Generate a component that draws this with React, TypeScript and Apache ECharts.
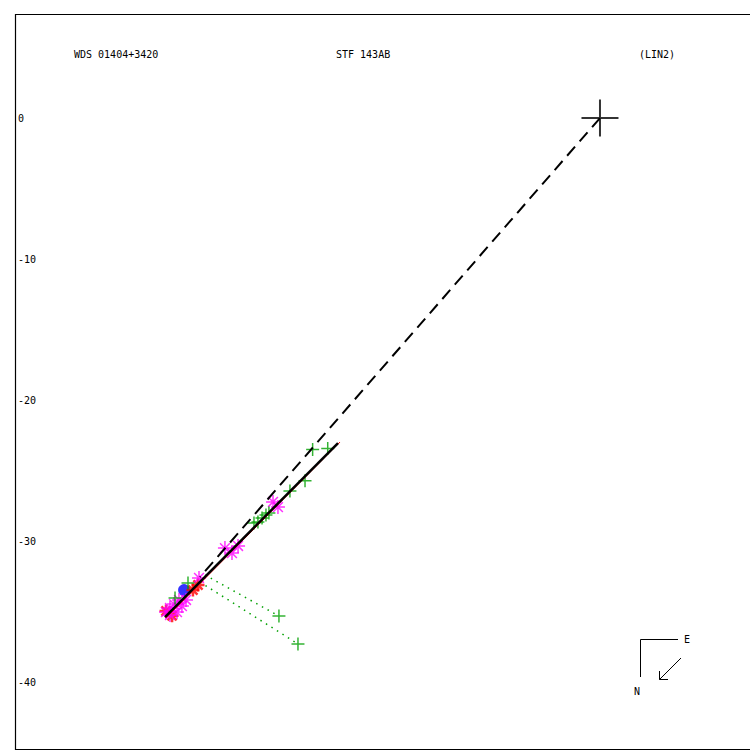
import React, { useEffect, useRef } from "react";
import * as echarts from "echarts";

// Data (arcsec offsets)
const primary = [[0, 0]];
const dashedLine = [[0, 0], [-28.37, -32.55]];
const fitLine = [[-30.85, -35.39], [-18.58, -23.05]];
const fitLineRed = [[-30.78, -35.45], [-18.44, -22.98]];
const residual1 = [[-28.01, -32.41], [-22.77, -35.32]];
const residual2 = [[-28.37, -32.91], [-21.42, -37.3]];
const greenObs = [
  [-20.38, -23.5], [-19.31, -23.43], [-20.92, -25.72], [-21.99, -26.45],
  [-23.48, -28.01], [-23.69, -28.16], [-23.97, -28.37], [-24.26, -28.65],
  [-24.54, -28.72], [-22.77, -35.32], [-21.42, -37.3], [-30.14, -34.04],
  [-29.22, -32.98],
];
const magentaObs = [
  [-23.19, -27.23], [-22.84, -27.59], [-26.6, -30.5], [-25.67, -30.35],
  [-26.1, -30.85], [-28.44, -32.62], [-30.78, -35.04], [-30.5, -34.75],
  [-30.21, -34.47], [-29.86, -34.18], [-30.5, -35.25], [-30.0, -35.04],
  [-29.65, -34.61], [-29.36, -34.18],
];
const redObs = [[-28.87, -33.48], [-28.51, -33.12], [-30.78, -34.96], [-30.35, -35.3]];
const blueObs = [[-29.5, -33.48]];
const yTicks = [0, -10, -20, -30, -40];
const titleLeft = "WDS 01404+3420";
const titleMid = "STF 143AB";
const titleRight = "(LIN2)";

const CROSS = "path://M0,-1L0,1M-1,0L1,0";
const STAR = "path://M-1,0L1,0M0,-1L0,1M-0.7,-0.7L0.7,0.7M-0.7,0.7L0.7,-0.7";
const MONO = "DejaVu Sans Mono";

export default function App() {
  const ref = useRef<HTMLDivElement>(null);
  useEffect(() => {
    if (!ref.current) return;
    const chart = echarts.init(ref.current, undefined, { renderer: "svg" });
    const strokeSym = (color: string, w: number) => ({ color: "none", borderColor: color, borderWidth: w });
    chart.setOption({
      animation: false,
      backgroundColor: "#fff",
      grid: { left: 15, top: 14, right: 0, bottom: 1, show: false },
      xAxis: { type: "value", min: -41.49, max: 10.64, show: false },
      yAxis: {
        type: "value", min: -44.75, max: 7.38,
        axisLine: { show: false }, axisTick: { show: false }, splitLine: { show: false },
        axisLabel: { inside: true, customValues: yTicks, margin: 3, fontFamily: MONO, fontSize: 10, color: "#000" },
      },
      graphic: [
        { type: "polyline", shape: { points: [[752, 14.5], [15.5, 14.5], [15.5, 749.5], [752, 749.5]] }, style: { stroke: "#000", lineWidth: 1.2, fill: "none" } },
        { type: "text", x: 74, y: 54, style: { text: titleLeft, font: `10px '${MONO}'`, fill: "#000", verticalAlign: "middle" } },
        { type: "text", x: 336, y: 54, style: { text: titleMid, font: `10px '${MONO}'`, fill: "#000", verticalAlign: "middle" } },
        { type: "text", x: 639, y: 54, style: { text: titleRight, font: `10px '${MONO}'`, fill: "#000", verticalAlign: "middle" } },
        { type: "polyline", shape: { points: [[678, 639.5], [640.5, 639.5], [640.5, 677]] }, style: { stroke: "#000", lineWidth: 1, fill: "none" } },
        { type: "line", shape: { x1: 681, y1: 658, x2: 659.5, y2: 679.5 }, style: { stroke: "#000", lineWidth: 1 } },
        { type: "polyline", shape: { points: [[659.5, 671], [659.5, 679.5], [668, 679.5]] }, style: { stroke: "#000", lineWidth: 1, fill: "none" } },
        { type: "text", x: 684, y: 639, style: { text: "E", font: `10px '${MONO}'`, fill: "#000", verticalAlign: "middle" } },
        { type: "text", x: 634, y: 691, style: { text: "N", font: `10px '${MONO}'`, fill: "#000", verticalAlign: "middle" } },
      ],
      series: [
        { type: "line", data: residual1, symbol: "none", lineStyle: { color: "#00a000", width: 1.5, type: [1.5, 5] } },
        { type: "line", data: residual2, symbol: "none", lineStyle: { color: "#00a000", width: 1.5, type: [1.5, 5] } },
        { type: "scatter", data: blueObs, symbol: "circle", symbolSize: 12, itemStyle: { color: "#0000ff" } },
        { type: "scatter", data: redObs, symbol: STAR, symbolSize: 13, itemStyle: strokeSym("#ff0000", 2.5) },
        { type: "scatter", data: magentaObs, symbol: STAR, symbolSize: 14, itemStyle: strokeSym("#ff00ff", 1.5) },
        { type: "scatter", data: greenObs, symbol: CROSS, symbolSize: 13, itemStyle: strokeSym("#00a000", 1.5) },
        { type: "line", data: fitLineRed, symbol: "none", lineStyle: { color: "#ff0000", width: 1 } },
        { type: "line", data: fitLine, symbol: "none", lineStyle: { color: "#000", width: 2.5 } },
        { type: "line", data: dashedLine, symbol: "none", lineStyle: { color: "#000", width: 2, type: [12, 7] } },
        { type: "scatter", data: primary, symbol: CROSS, symbolSize: 37, itemStyle: strokeSym("#000", 2) },
      ],
    });
    return () => chart.dispose();
  }, []);
  return <div ref={ref} style={{ position: "absolute", left: 0, top: 0, width: 750, height: 750 }} />;
}
